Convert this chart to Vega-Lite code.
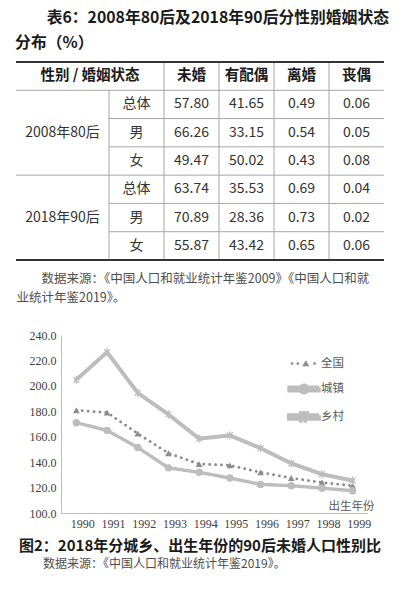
{
  "$schema": "https://vega.github.io/schema/vega-lite/v6.json",
  "background": "white",
  "padding": {"left": 15, "top": 10, "right": 0, "bottom": 0},
  "config": {
    "view": {"stroke": null},
    "font": "Noto Sans CJK SC",
    "text": {"font": "Noto Sans CJK SC"}
  },
  "datasets": {
    "table": [
      {"row": "a1", "类": "总体", "未婚": 57.80, "有配偶": 41.65, "离婚": 0.49, "丧偶": 0.06},
      {"row": "a2", "类": "男", "未婚": 66.26, "有配偶": 33.15, "离婚": 0.54, "丧偶": 0.05},
      {"row": "a3", "类": "女", "未婚": 49.47, "有配偶": 50.02, "离婚": 0.43, "丧偶": 0.08},
      {"row": "b1", "类": "总体", "未婚": 63.74, "有配偶": 35.53, "离婚": 0.69, "丧偶": 0.04},
      {"row": "b2", "类": "男", "未婚": 70.89, "有配偶": 28.36, "离婚": 0.73, "丧偶": 0.02},
      {"row": "b3", "类": "女", "未婚": 55.87, "有配偶": 43.42, "离婚": 0.65, "丧偶": 0.06}
    ],
    "header": [
      {"row": "hdr", "col": "未婚"},
      {"row": "hdr", "col": "有配偶"},
      {"row": "hdr", "col": "离婚"},
      {"row": "hdr", "col": "丧偶"}
    ],
    "headspan": [{"row": "hdr", "span": "表头", "label": "性别 / 婚姻状态"}],
    "groups": [
      {"row": "a2", "col": "组", "label": "2008年80后"},
      {"row": "b2", "col": "组", "label": "2018年90后"}
    ],
    "fullrules": [
      {"row": "hdr", "edge": "start", "weight": "thick", "from": "左", "to": "右"},
      {"row": "a1", "edge": "start", "weight": "thin", "from": "左", "to": "右"},
      {"row": "b1", "edge": "start", "weight": "thin", "from": "左", "to": "右"},
      {"row": "b3", "edge": "end", "weight": "thick", "from": "左", "to": "右"}
    ],
    "partrules": [
      {"row": "a2", "from": "类", "to": "丧偶"},
      {"row": "a3", "from": "类", "to": "丧偶"},
      {"row": "b2", "from": "类", "to": "丧偶"},
      {"row": "b3", "from": "类", "to": "丧偶"}
    ],
    "vrules": [
      {"col": "类", "top": "a1", "bottom": "b3"},
      {"col": "未婚", "top": "hdr", "bottom": "b3"},
      {"col": "有配偶", "top": "hdr", "bottom": "b3"},
      {"col": "离婚", "top": "hdr", "bottom": "b3"},
      {"col": "丧偶", "top": "hdr", "bottom": "b3"}
    ],
    "ratio": [
      {"year": 1990, "area": "全国", "ratio": 180.8},
      {"year": 1991, "area": "全国", "ratio": 179.0},
      {"year": 1992, "area": "全国", "ratio": 162.5},
      {"year": 1993, "area": "全国", "ratio": 147.0},
      {"year": 1994, "area": "全国", "ratio": 138.5},
      {"year": 1995, "area": "全国", "ratio": 137.5},
      {"year": 1996, "area": "全国", "ratio": 132.0},
      {"year": 1997, "area": "全国", "ratio": 127.5},
      {"year": 1998, "area": "全国", "ratio": 124.0},
      {"year": 1999, "area": "全国", "ratio": 121.5},
      {"year": 1990, "area": "城镇", "ratio": 171.0},
      {"year": 1991, "area": "城镇", "ratio": 165.0},
      {"year": 1992, "area": "城镇", "ratio": 151.5},
      {"year": 1993, "area": "城镇", "ratio": 135.5},
      {"year": 1994, "area": "城镇", "ratio": 132.0},
      {"year": 1995, "area": "城镇", "ratio": 127.5},
      {"year": 1996, "area": "城镇", "ratio": 122.5},
      {"year": 1997, "area": "城镇", "ratio": 121.5},
      {"year": 1998, "area": "城镇", "ratio": 119.5},
      {"year": 1999, "area": "城镇", "ratio": 117.5},
      {"year": 1990, "area": "乡村", "ratio": 204.8},
      {"year": 1991, "area": "乡村", "ratio": 226.5},
      {"year": 1992, "area": "乡村", "ratio": 194.5},
      {"year": 1993, "area": "乡村", "ratio": 177.5},
      {"year": 1994, "area": "乡村", "ratio": 158.5},
      {"year": 1995, "area": "乡村", "ratio": 161.0},
      {"year": 1996, "area": "乡村", "ratio": 151.0},
      {"year": 1997, "area": "乡村", "ratio": 139.0},
      {"year": 1998, "area": "乡村", "ratio": 130.5},
      {"year": 1999, "area": "乡村", "ratio": 125.5}
    ]
  },
  "concat": [
    {
      "width": 323,
      "height": 198,
      "title": {
        "text": ["\u200b\u3000\u3000表6：2008年80后及2018年90后分性别婚姻状态", "分布（%）"],
        "anchor": "start",
        "frame": "bounds",
        "font": "Noto Sans CJK SC",
        "fontSize": 15.8,
        "fontWeight": "bold",
        "color": "#1a1a1a",
        "lineHeight": 25,
        "offset": 9
      },
      "resolve": {"scale": {"x": "independent"}},
      "layer": [
        {
          "layer": [
            {
              "data": {"name": "table"},
              "transform": [{"fold": ["未婚", "有配偶", "离婚", "丧偶"], "as": ["col", "value"]}],
              "mark": {"type": "text", "fontSize": 14, "color": "#333"},
              "encoding": {
                "x": {
                  "field": "col", "type": "nominal",
                  "scale": {"type": "band", "domain": ["类", "未婚", "有配偶", "离婚", "丧偶"], "range": [48, 323], "paddingInner": 0, "paddingOuter": 0},
                  "axis": null
                },
                "y": {
                  "field": "row", "type": "nominal",
                  "scale": {"type": "band", "domain": ["hdr", "a1", "a2", "a3", "b1", "b2", "b3"], "paddingInner": 0, "paddingOuter": 0},
                  "axis": null
                },
                "text": {"field": "value", "type": "quantitative", "format": ".2f"}
              }
            },
            {
              "data": {"name": "table"},
              "transform": [{"fold": ["类"], "as": ["col", "value"]}],
              "mark": {"type": "text", "fontSize": 14, "color": "#333"},
              "encoding": {
                "x": {"field": "col", "type": "nominal", "axis": null},
                "y": {"field": "row", "type": "nominal", "axis": null},
                "text": {"field": "value", "type": "nominal"}
              }
            },
            {
              "data": {"name": "header"},
              "mark": {"type": "text", "fontSize": 14.5, "fontWeight": "bold", "color": "#1a1a1a"},
              "encoding": {
                "x": {"field": "col", "type": "nominal", "axis": null},
                "y": {"field": "row", "type": "nominal", "axis": null},
                "text": {"field": "col", "type": "nominal"}
              }
            },
            {
              "data": {"name": "partrules"},
              "mark": {"type": "rule", "color": "#a6a6a6", "strokeWidth": 1},
              "encoding": {
                "x": {"field": "from", "type": "nominal", "bandPosition": 0, "axis": null},
                "x2": {"field": "to", "bandPosition": 1},
                "y": {"field": "row", "type": "nominal", "bandPosition": 0, "axis": null}
              }
            },
            {
              "data": {"name": "vrules"},
              "mark": {"type": "rule", "color": "#a6a6a6", "strokeWidth": 1},
              "encoding": {
                "x": {"field": "col", "type": "nominal", "bandPosition": 0, "axis": null},
                "y": {"field": "top", "type": "nominal", "bandPosition": 0, "axis": null},
                "y2": {"field": "bottom", "bandPosition": 1}
              }
            }
          ]
        },
        {
          "layer": [
            {
              "data": {"name": "fullrules"},
              "transform": [{"filter": "datum.weight === 'thin'"}],
              "mark": {"type": "rule", "color": "#a6a6a6", "strokeWidth": 1},
              "encoding": {
                "x": {
                  "field": "from", "type": "nominal", "bandPosition": 0,
                  "scale": {"type": "band", "domain": ["左", "右"], "range": [-45, 323], "paddingInner": 0, "paddingOuter": 0},
                  "axis": {
                    "title": ["\u200b\u3000\u3000数据来源：《中国人口和就业统计年鉴2009》《中国人口和就", "业统计年鉴2019》。"],
                    "labels": false, "ticks": false, "domain": false, "grid": false,
                    "titleAnchor": "start", "titleAlign": "left", "titleBaseline": "top",
                    "titleFont": "Noto Sans CJK SC", "titleFontSize": 12.5, "titleFontWeight": "normal",
                    "titleColor": "#4d4d4d", "titleLineHeight": 19, "titlePadding": 12
                  }
                },
                "x2": {"field": "to", "bandPosition": 1},
                "y": {"field": "row", "type": "nominal", "bandPosition": 0, "axis": null}
              }
            },
            {
              "data": {"name": "fullrules"},
              "transform": [{"filter": "datum.edge === 'start' && datum.weight === 'thick'"}],
              "mark": {"type": "rule", "color": "#333", "strokeWidth": 1.8},
              "encoding": {
                "x": {"field": "from", "type": "nominal", "bandPosition": 0},
                "x2": {"field": "to", "bandPosition": 1},
                "y": {"field": "row", "type": "nominal", "bandPosition": 0, "axis": null}
              }
            },
            {
              "data": {"name": "fullrules"},
              "transform": [{"filter": "datum.edge === 'end'"}],
              "mark": {"type": "rule", "color": "#333", "strokeWidth": 1.8},
              "encoding": {
                "x": {"field": "from", "type": "nominal", "bandPosition": 0},
                "x2": {"field": "to", "bandPosition": 1},
                "y": {"field": "row", "type": "nominal", "bandPosition": 1, "axis": null}
              }
            }
          ]
        },
        {
          "data": {"name": "groups"},
          "mark": {"type": "text", "fontSize": 14, "color": "#333"},
          "encoding": {
            "x": {
              "field": "col", "type": "nominal",
              "scale": {"type": "band", "domain": ["组"], "range": [-45, 48], "paddingInner": 0, "paddingOuter": 0},
              "axis": null
            },
            "y": {"field": "row", "type": "nominal", "axis": null},
            "text": {"field": "label", "type": "nominal"}
          }
        },
        {
          "data": {"name": "headspan"},
          "mark": {"type": "text", "fontSize": 14.5, "fontWeight": "bold", "color": "#1a1a1a"},
          "encoding": {
            "x": {
              "field": "span", "type": "nominal",
              "scale": {"type": "band", "domain": ["表头"], "range": [-45, 103], "paddingInner": 0, "paddingOuter": 0},
              "axis": null
            },
            "y": {"field": "row", "type": "nominal", "axis": null},
            "text": {"field": "label", "type": "nominal"}
          }
        }
      ]
    },
    {
      "width": 307,
      "height": 178,
      "data": {"name": "ratio"},
      "title": {
        "text": "图2：2018年分城乡、出生年份的90后未婚人口性别比",
        "subtitle": "\u200b\u3000\u3000数据来源：《中国人口和就业统计年鉴2019》。",
        "orient": "bottom",
        "anchor": "start",
        "frame": "bounds",
        "dx": -10,
        "offset": 10,
        "font": "Noto Sans CJK SC",
        "fontSize": 15,
        "fontWeight": "bold",
        "color": "#1a1a1a",
        "subtitleFont": "Noto Sans CJK SC",
        "subtitleFontSize": 12,
        "subtitleColor": "#4d4d4d",
        "subtitlePadding": 5
      },
      "encoding": {
        "x": {
          "field": "year", "type": "ordinal",
          "scale": {"type": "point", "padding": 0.5},
          "axis": {
            "title": "出生年份",
            "titleAnchor": "end", "titleAlign": "right", "titleBaseline": "bottom",
            "titleX": 313, "titleY": -2,
            "titleFont": "Noto Sans CJK SC", "titleFontSize": 11.5, "titleFontWeight": "normal", "titleColor": "#595959",
            "labelFont": "Liberation Serif", "labelFontSize": 12, "labelColor": "#404040",
            "labelAngle": 0, "labelOffset": 6, "labelPadding": 5,
            "ticks": false, "grid": false, "domainColor": "#bfbfbf"
          }
        },
        "y": {
          "field": "ratio", "type": "quantitative",
          "scale": {"domain": [100, 240], "nice": false, "zero": false},
          "axis": {
            "title": null,
            "values": [100, 120, 140, 160, 180, 200, 220, 240],
            "format": ".1f",
            "labelFont": "Liberation Serif", "labelFontSize": 12, "labelColor": "#404040",
            "labelPadding": 5, "ticks": false, "grid": false, "domainColor": "#bfbfbf"
          }
        },
        "color": {
          "field": "area", "type": "nominal",
          "scale": {"domain": ["全国", "城镇", "乡村"], "range": ["#8c8c8c", "#bdbdbd", "#bdbdbd"]},
          "legend": {
            "orient": "none", "legendX": 226, "legendY": 12,
            "title": null, "direction": "vertical",
            "symbolType": "stroke", "symbolSize": 900,
            "labelFont": "Noto Sans CJK SC", "labelFontSize": 11.5, "labelColor": "#595959",
            "labelOffset": 0, "rowPadding": 0, "padding": 0,
            "encode": {
              "symbols": {
                "update": {
                  "shape": {"signal": "datum.value === '全国' ? 'M-0.88,0A0.09,0.09 0 1,0 -0.7,0A0.09,0.09 0 1,0 -0.88,0ZM-0.5,0A0.09,0.09 0 1,0 -0.32,0A0.09,0.09 0 1,0 -0.5,0ZM0.62,0A0.09,0.09 0 1,0 0.8,0A0.09,0.09 0 1,0 0.62,0ZM0.12,-0.22L0.36,0.18L-0.12,0.18Z' : datum.value === '城镇' ? 'M-1,-0.12H1V0.12H-1ZM-0.25,0A0.25,0.25 0 1,0 0.25,0A0.25,0.25 0 1,0 -0.25,0Z' : 'M-1,-0.12H1V0.12H-1ZM-0.2,-0.25H-0.1V0.25H-0.2ZM0.1,-0.25H0.2V0.25H0.1Z'"},
                  "fill": {"scale": "color", "field": "value"},
                  "fillOpacity": {"value": 1},
                  "opacity": {"value": 1},
                  "strokeWidth": {"value": 0},
                  "strokeDash": {"value": []}
                }
              }
            }
          }
        }
      },
      "layer": [
        {
          "mark": {"type": "line", "strokeCap": "round", "strokeJoin": "round"},
          "encoding": {
            "strokeDash": {
              "field": "area", "type": "nominal",
              "scale": {"domain": ["全国", "城镇", "乡村"], "range": [[0.1, 5.8], [1, 0], [1, 0]]},
              "legend": null
            },
            "strokeWidth": {
              "field": "area", "type": "nominal",
              "scale": {"domain": ["全国", "城镇", "乡村"], "range": [2.8, 4, 4]},
              "legend": null
            }
          }
        },
        {
          "mark": {"type": "point", "filled": true, "opacity": 1},
          "encoding": {
            "shape": {
              "condition": [
                {"test": "datum.area === '全国'", "value": "triangle-up"},
                {"test": "datum.area === '城镇'", "value": "circle"}
              ],
              "value": "M-0.15,-1H0.15V1H-0.15ZM-0.594,-0.806L0.806,0.594L0.594,0.806L-0.806,-0.594ZM-0.594,0.806L0.806,-0.594L0.594,-0.806L-0.806,0.594Z"
            },
            "size": {
              "condition": [
                {"test": "datum.area === '全国'", "value": 45},
                {"test": "datum.area === '城镇'", "value": 55}
              ],
              "value": 70
            }
          }
        }
      ]
    }
  ],
  "columns": 1,
  "spacing": 25,
  "resolve": {
    "scale": {"color": "independent", "strokeDash": "independent", "strokeWidth": "independent"},
    "legend": {"color": "independent"}
  }
}
